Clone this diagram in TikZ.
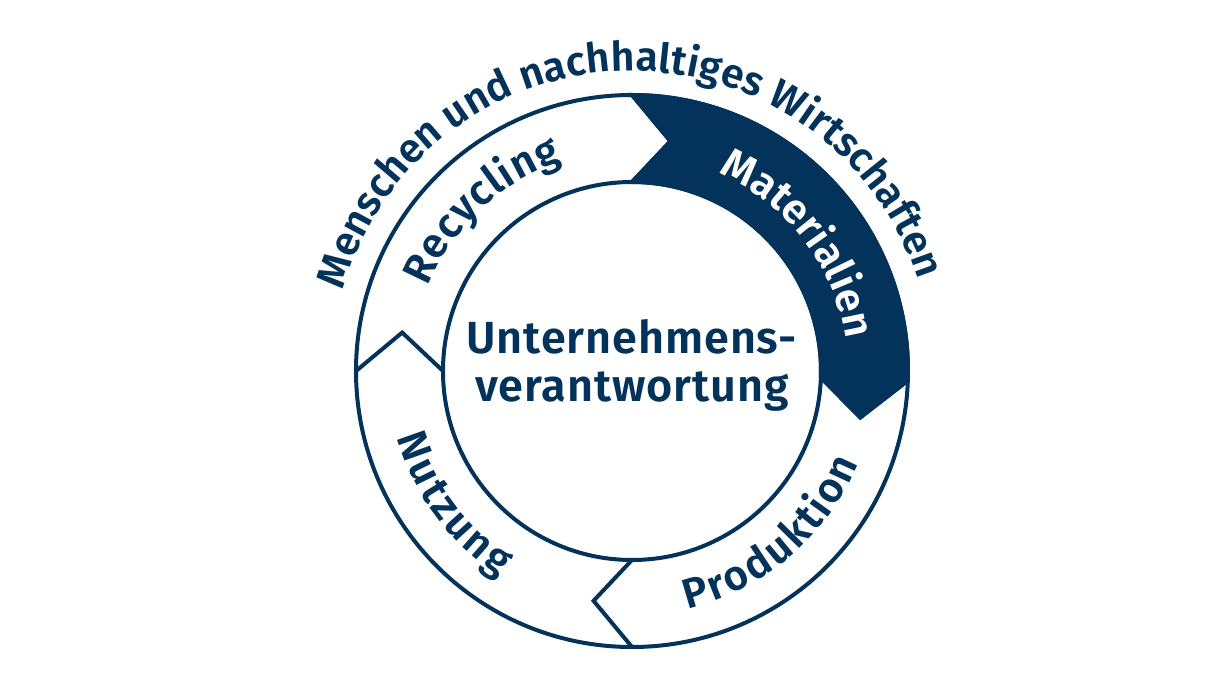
\documentclass[tikz,border=0pt]{standalone}
\usepackage{fontspec}
\setmainfont{Fira Sans}
\newfontfamily\ringfont{Fira Sans SemiBold}
\newfontfamily\ctrfont{Fira Sans SemiBold}[LetterSpace=2]
\usetikzlibrary{decorations.text}
\definecolor{navy}{HTML}{03325A}
\newcommand\rf{\ringfont\fontsize{42}{48}\selectfont}
\newcommand\tf{\ringfont\fontsize{41}{46}\selectfont}
\begin{document}
\begin{tikzpicture}[x=1pt,y=1pt,
  ringline/.style={draw=navy, line width=4pt, line join=miter},
  arctext/.style={decorate, decoration={text along path, text align=center, text={#1}}},
  arctextw/.style={decorate, decoration={text along path, text align=center, text color=white, text={#1}}}]
\useasboundingbox (-632,-314) rectangle (584,371);
\def\Ro{276}
\def\Ri{189}
\def\Rm{233}
% dark segment (Materialien)
\filldraw[navy, line width=4pt, line join=miter] (90:\Ro) arc[start angle=90,end angle=-2,radius=\Ro] -- (-11.5:\Rm) -- (-2:\Ri) arc[start angle=-2,end angle=90,radius=\Ri] -- (80.5:\Rm) -- cycle;
% ring circles
\draw[ringline] (0,0) circle[radius=\Ro];
\draw[ringline] (0,0) circle[radius=\Ri];
% chevrons
\foreach \a in {180,90,-2,-90} {
  \draw[ringline] (\a:\Ro) -- ({\a-9.5}:\Rm) -- (\a:\Ri);
}
% texts
\path[arctext={|\tf\color{navy}|Menschen und nachhaltiges Wirtschaften}] (177:300) arc[start angle=177,end angle=5,radius=300];
\path[arctext={|\rf\color{navy}|{R\kern1pt}{e\kern1pt}{c\kern1pt}{y\kern1pt}{c\kern1pt}{l\kern1pt}{i\kern1pt}{n\kern1pt}g}] (178:221) arc[start angle=178,end angle=88,radius=221];
\path[arctextw={|\rf|Materialien}] (82:216) arc[start angle=82,end angle=-7,radius=216];
\path[arctext={|\rf\color{navy}|{P\kern2pt}{r\kern2pt}{o\kern2pt}{d\kern2pt}{u\kern2pt}{k\kern2pt}{t\kern2pt}{i\kern2pt}{o\kern2pt}n}] (-94:244) arc[start angle=-94,end angle=-5,radius=244];
\path[arctext={|\rf\color{navy}|{N\kern3pt}{u\kern3pt}{t\kern3pt}{z\kern3pt}{u\kern3pt}{n\kern3pt}g}] (176:244) arc[start angle=176,end angle=257,radius=244];
\node[font=\ctrfont\fontsize{45}{48}\selectfont, text=navy, align=center, inner sep=0pt] (ctr) at (0,6) {Unternehmens-\\verantwortung};
\end{tikzpicture}
\end{document}
